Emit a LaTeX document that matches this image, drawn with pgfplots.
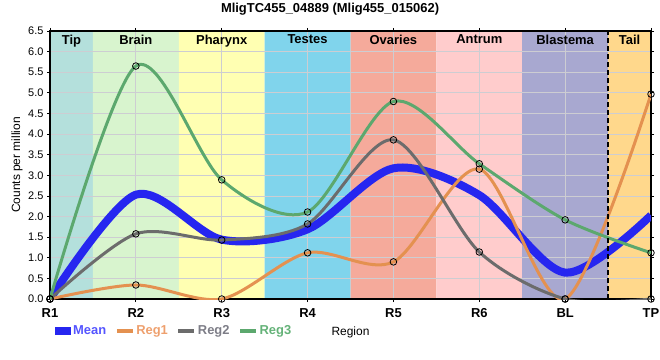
\documentclass[border=0pt]{standalone}
\usepackage{pgfplots}
\pgfplotsset{compat=1.18}
\usepackage{fontspec}
\setmainfont{Liberation Sans}
\definecolor{cTip}{RGB}{180,224,220}
\definecolor{cBrain}{RGB}{216,244,206}
\definecolor{cPharynx}{RGB}{255,255,178}
\definecolor{cTestes}{RGB}{128,212,236}
\definecolor{cOvaries}{RGB}{245,170,155}
\definecolor{cAntrum}{RGB}{255,204,204}
\definecolor{cBlastema}{RGB}{168,168,208}
\definecolor{cTail}{RGB}{255,216,140}
\definecolor{lMean}{RGB}{38,38,240}
\definecolor{lReg1}{RGB}{228,145,80}
\definecolor{lReg2}{RGB}{108,108,108}
\definecolor{lReg3}{RGB}{92,168,110}
\definecolor{tMean}{RGB}{85,85,255}
\definecolor{tReg1}{RGB}{238,160,110}
\definecolor{tReg2}{RGB}{125,125,135}
\definecolor{tReg3}{RGB}{100,178,120}
\definecolor{gridgray}{RGB}{205,205,210}
\begin{document}
\begin{tikzpicture}
\begin{axis}[
  set layers,
  scale only axis, width=601bp, height=268bp,
  xmin=0, xmax=7, ymin=0, ymax=6.5,
  xtick={0,1,2,3,4,5,6,7},
  xticklabels={R1,R2,R3,R4,R5,R6,BL,TP},
  ytick={0,0.5,1,1.5,2,2.5,3,3.5,4,4.5,5,5.5,6,6.5},
  yticklabel style={font=\fontsize{11}{13}\selectfont},
  yticklabel style={/pgf/number format/.cd, fixed, fixed zerofill, precision=1, assume math mode=true},
  xticklabel style={font=\bfseries\fontsize{13}{15}\selectfont, yshift=-3bp},
  grid=major, major grid style={color=gridgray, line width=0.8bp},
  axis line style={line width=1.6bp},
  tick align=outside, major tick length=3bp,
  tick style={black, line width=0.8bp},
  title={\bfseries\fontsize{13}{15}\selectfont MligTC455\_04889 (Mlig455\_015062)},
  title style={at={(axis description cs:0.466,1)}, anchor=center, yshift=16bp, inner sep=0pt},
  ylabel={Counts per million},
  ylabel style={font=\fontsize{12}{14}\selectfont, at={(axis description cs:0,0.5)}, anchor=center, yshift=33bp},
  xlabel={Region},
  xlabel style={font=\fontsize{12}{14}\selectfont, at={(axis description cs:0.5,0)}, anchor=center, yshift=-33bp},
  clip mode=individual,
  legend style={at={(axis description cs:0,0)}, anchor=west, yshift=-32bp, xshift=5bp, draw=none, fill=none,
    font=\bfseries\fontsize{13}{15}\selectfont, inner sep=0bp,
    /tikz/every even column/.append style={column sep=7bp}},
  legend columns=-1,
  legend image code/.code={\draw[#1] (0bp,0bp) -- (16bp,0bp);},
]
% backgrounds
\addplot[on layer=axis background, fill=cTip, draw=none, forget plot] coordinates {(0,0) (0.5,0) (0.5,6.5) (0,6.5)} \closedcycle;
\addplot[on layer=axis background, fill=cBrain, draw=none, forget plot] coordinates {(0.5,0) (1.5,0) (1.5,6.5) (0.5,6.5)} \closedcycle;
\addplot[on layer=axis background, fill=cPharynx, draw=none, forget plot] coordinates {(1.5,0) (2.5,0) (2.5,6.5) (1.5,6.5)} \closedcycle;
\addplot[on layer=axis background, fill=cTestes, draw=none, forget plot] coordinates {(2.5,0) (3.5,0) (3.5,6.5) (2.5,6.5)} \closedcycle;
\addplot[on layer=axis background, fill=cOvaries, draw=none, forget plot] coordinates {(3.5,0) (4.5,0) (4.5,6.5) (3.5,6.5)} \closedcycle;
\addplot[on layer=axis background, fill=cAntrum, draw=none, forget plot] coordinates {(4.5,0) (5.5,0) (5.5,6.5) (4.5,6.5)} \closedcycle;
\addplot[on layer=axis background, fill=cBlastema, draw=none, forget plot] coordinates {(5.5,0) (6.5,0) (6.5,6.5) (5.5,6.5)} \closedcycle;
\addplot[on layer=axis background, fill=cTail, draw=none, forget plot] coordinates {(6.5,0) (7,0) (7,6.5) (6.5,6.5)} \closedcycle;
% curves
\addplot[lMean, line width=8bp, smooth, tension=0.5,
  legend image code/.code={\path[fill=lMean, draw=none] (0bp,-3.5bp) rectangle (16bp,3.5bp);}]
  coordinates {(0,0) (1,2.53) (2,1.44) (3,1.69) (4,3.17) (5,2.52) (6,0.64) (7,2.03)};
\addlegendentry{\textcolor{tMean}{Mean}}
\addplot[lReg1, line width=3bp, smooth, tension=0.5]
  coordinates {(0,0) (1,0.34) (2,0) (3,1.12) (4,0.90) (5,3.15) (6,0) (7,4.97)};
\addlegendentry{\textcolor{tReg1}{Reg1}}
\addplot[lReg2, line width=3bp, smooth, tension=0.5]
  coordinates {(0,0) (1,1.58) (2,1.43) (3,1.82) (4,3.86) (5,1.14) (6,0) (7,0)};
\addlegendentry{\textcolor{tReg2}{Reg2}}
\addplot[lReg3, line width=3bp, smooth, tension=0.5]
  coordinates {(0,0) (1,5.65) (2,2.89) (3,2.11) (4,4.79) (5,3.28) (6,1.92) (7,1.12)};
\addlegendentry{\textcolor{tReg3}{Reg3}}
% markers
\addplot[only marks, mark=o, mark size=3.3bp, mark options={black, line width=0.8bp}, forget plot]
  coordinates {(0,0) (1,0.34) (2,0) (3,1.12) (4,0.90) (5,3.15) (6,0) (7,4.97)};
\addplot[only marks, mark=o, mark size=3.3bp, mark options={black, line width=0.8bp}, forget plot]
  coordinates {(0,0) (1,1.58) (2,1.43) (3,1.82) (4,3.86) (5,1.14) (6,0) (7,0)};
\addplot[only marks, mark=o, mark size=3.3bp, mark options={black, line width=0.8bp}, forget plot]
  coordinates {(0,0) (1,5.65) (2,2.89) (3,2.11) (4,4.79) (5,3.28) (6,1.92) (7,1.12)};
% dashed separator
\draw[black, line width=2.2bp, dash pattern=on 5bp off 3bp] (axis cs:6.5,0) -- (axis cs:6.5,6.5);
% region labels
\foreach \xx/\lab in {0.25/Tip,1/Brain,2/Pharynx,3/Testes,4/Ovaries,5/Antrum,6/Blastema,6.75/Tail}{
  \edef\tmp{\noexpand\node[anchor=north, font=\noexpand\bfseries\noexpand\fontsize{13}{15}\noexpand\selectfont, inner sep=0pt, yshift=-3.5bp] at (axis cs:\xx,6.5) {\lab};}
  \tmp
}
\end{axis}
\pgfresetboundingbox
\useasboundingbox ([shift={(-50bp,-61bp)}]current axis.south west) rectangle ([shift={(9bp,31bp)}]current axis.north east);
\end{tikzpicture}
\end{document}
